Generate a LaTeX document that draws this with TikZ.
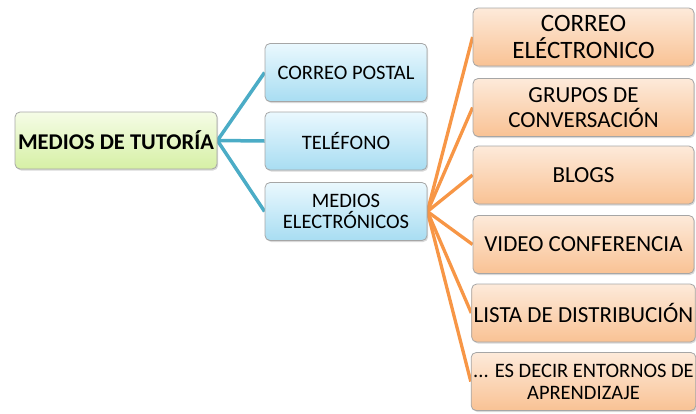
\documentclass[tikz,border=0pt]{standalone}
\usepackage{fontspec}
\setmainfont{Carlito}
\usetikzlibrary{shadows,backgrounds}
\definecolor{bline}{RGB}{75,172,198}
\definecolor{oline}{RGB}{247,150,70}
\definecolor{gtop}{RGB}{245,252,230}
\definecolor{gbot}{RGB}{214,240,165}
\definecolor{btop}{RGB}{234,248,254}
\definecolor{bbot}{RGB}{168,221,242}
\definecolor{otop}{RGB}{253,234,218}
\definecolor{obot}{RGB}{249,194,148}
\begin{document}
\begin{tikzpicture}[x=1pt,y=-1pt,
  box/.style={draw=black!35, line width=0.8pt, rounded corners=5pt, align=center, inner sep=2pt,
    text=black, drop shadow={shadow xshift=1.2pt, shadow yshift=-1.5pt, opacity=0.3}},
  rootbox/.style={box, top color=gtop, bottom color=gbot, minimum width=202pt, minimum height=57pt,
    font=\fontsize{22.5}{24}\selectfont\bfseries},
  bluebox/.style={box, top color=btop, bottom color=bbot, minimum width=162pt, minimum height=58pt,
    font=\fontsize{20.5}{21.5}\selectfont},
  orbox/.style={box, top color=otop, bottom color=obot, minimum width=221pt, minimum height=58pt,
    font=\fontsize{23}{24.5}\selectfont},
  bconn/.style={draw=bline, line width=3.5pt},
  oconn/.style={draw=oline, line width=3.3pt}
]
\useasboundingbox (0,0) rectangle (696,413);

\node[rootbox] (root) at (116,140.5) {MEDIOS DE TUTORÍA};

\node[bluebox] (postal) at (346,72.5) {CORREO POSTAL};
\node[bluebox] (tel) at (346,141) {TELÉFONO};
\node[bluebox] (elec) at (346,211.5) {MEDIOS\\ELECTRÓNICOS};

\node[orbox, font=\fontsize{25}{27}\selectfont] (o1) at (583.5,37) {CORREO\\ELÉCTRONICO};
\node[orbox] (o2) at (583.5,107.5) {GRUPOS DE\\CONVERSACIÓN};
\node[orbox] (o3) at (583.5,175) {BLOGS};
\node[orbox] (o4) at (583.5,244.5) {VIDEO CONFERENCIA};
\node[orbox] (o5) at (583.5,313) {LISTA DE DISTRIBUCIÓN};
\node[orbox, font=\fontsize{20.5}{22}\selectfont] (o6) at (583.5,381.5) {... ES DECIR ENTORNOS DE\\APRENDIZAJE};

\begin{scope}[on background layer]
  \foreach \t in {postal,tel,elec}
    \draw[bconn] (root.east) -- (\t.west);
  \foreach \t in {o1,o2,o3,o4,o5,o6}
    \draw[oconn] (elec.east) -- (\t.west);
\end{scope}
\end{tikzpicture}
\end{document}
